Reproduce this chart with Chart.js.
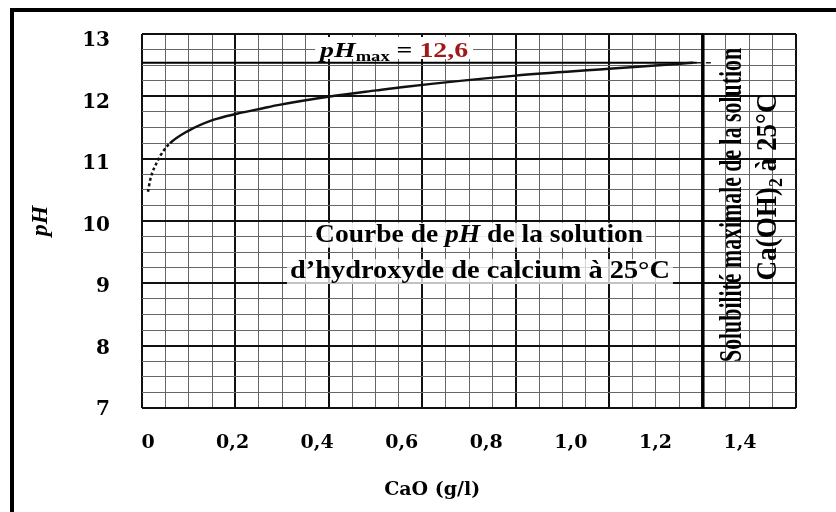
<!DOCTYPE html>
<html>
<head>
<meta charset="utf-8">
<script src="https://cdn.jsdelivr.net/npm/chart.js@4.4.0/dist/chart.umd.min.js"></script>
<style>
  html, body { margin: 0; padding: 0; background: #fff; overflow: hidden; }
  #wrap { position: relative; width: 836px; height: 512px; }
  #frame { position: absolute; left: 10px; top: 8px; width: 900px; height: 600px;
           border-left: 4px solid #000; border-top: 4px solid #000; pointer-events: none; }
  canvas { display: block; }
</style>
</head>
<body>
<div id="wrap">
  <canvas id="c" width="836" height="512"></canvas>
  <div id="frame"></div>
</div>
<script>
// ---------- data ----------
const xTickValues = [0, 0.2, 0.4, 0.6, 0.8, 1.0, 1.2, 1.4];
const xTickLabels = ['0', '0,2', '0,4', '0,6', '0,8', '1,0', '1,2', '1,4'];
const yTickValues = [7, 8, 9, 10, 11, 12, 13];
const yTickLabels = ['7', '8', '9', '10', '11', '12', '13'];
const xRange = [-0.0142, 1.5324];   // visible CaO range (g/l)
const yRange = [6.984, 13.067];     // visible pH range
const paperCellsX = 28;             // graph-paper background cells
const paperCellsY = 24;

// pH curve of the Ca(OH)2 solution
const caoConc  = [0.000, 0.005, 0.024, 0.035, 0.052, 0.092, 0.154, 0.210, 0.272, 0.307, 0.430, 0.540, 0.610, 0.870, 1.090, 1.258, 1.289];
const phValues = [10.50, 10.69, 11.02, 11.15, 11.29, 11.48, 11.67, 11.77, 11.86, 11.91, 12.05, 12.15, 12.21, 12.39, 12.50, 12.585, 12.60];
const dashedUpTo = 0.052;        // extrapolated (dashed) beginning of the curve
const phMax = 12.6;
const phMaxLineEnd = 1.298;
const phMaxDashEnd = 1.336;
const solubilityLimit = 1.312;   // g/l CaO

// ---------- helpers ----------
const SERIF = '"Liberation Serif", "Times New Roman", serif';
const TICKFONT = '"DejaVu Serif", serif';
function integers(n) { return Array.from({ length: n + 1 }, (_, i) => ({ value: i })); }
function labelFor(v, vals, labels) {
  const i = vals.findIndex(t => Math.abs(t - v) < 1e-6);
  return i >= 0 ? labels[i] : '';
}
function noOverflow(s) { s.paddingTop = 0; s.paddingBottom = 0; s.paddingLeft = 0; s.paddingRight = 0; }
const paperColor = c => (c.tick.value % 4 === 0 ? '#111' : '#666');
const paperWidth = c => (c.tick.value % 4 === 0 ? 2 : 1);

function drawPieces(ctx, pieces, x, y, o) {
  let natural = 0;
  for (const p of pieces) { ctx.font = p.font; natural += ctx.measureText(p.text).width; }
  const width = o.width || natural;
  const sx = width / natural;
  ctx.save();
  ctx.translate(x, y);
  if (o.rotate) ctx.rotate(o.rotate);
  const start = o.align === 'center' ? -width / 2 : 0;
  if (o.bg) {
    ctx.fillStyle = o.bg.color;
    ctx.fillRect(start - o.bg.pad, -o.bg.above, width + 2 * o.bg.pad, o.bg.above + o.bg.below);
  }
  ctx.scale(sx, 1);
  let cx = start / sx;
  ctx.textAlign = 'left';
  ctx.textBaseline = 'alphabetic';
  for (const p of pieces) {
    ctx.font = p.font;
    ctx.fillStyle = p.color || '#000';
    ctx.fillText(p.text, cx, p.dy || 0);
    cx += ctx.measureText(p.text).width;
  }
  ctx.restore();
}

const annotations = {
  id: 'annotations',
  beforeDatasetsDraw(chart) {
    const { ctx, scales: { x, y } } = chart;
    // pH max label
    drawPieces(ctx, [
      { text: 'pH', font: 'italic bold 21px ' + SERIF },
      { text: 'max', font: 'bold 14px ' + SERIF, dy: 4 },
      { text: ' = ', font: 'bold 21px ' + SERIF },
      { text: '12,6', font: 'bold 21px ' + SERIF, color: '#9e1a1a' }
    ], x.getPixelForValue(0.407), y.getPixelForValue(12.693),
      { width: 148, bg: { color: '#fff', pad: 5, above: 20, below: 2 } });

    // curve caption
    drawPieces(ctx, [
      { text: 'Courbe de ', font: 'bold 25px ' + SERIF },
      { text: 'pH', font: 'italic bold 25px ' + SERIF },
      { text: ' de la solution', font: 'bold 25px ' + SERIF }
    ], x.getPixelForValue(0.783), y.getPixelForValue(9.689),
      { align: 'center', width: 328, bg: { color: 'rgba(255,255,255,0.88)', pad: 3, above: 19, below: 6 } });
    drawPieces(ctx, [
      { text: 'd\u2019hydroxyde de calcium à 25°C', font: 'bold 25px ' + SERIF }
    ], x.getPixelForValue(0.785), y.getPixelForValue(9.098),
      { align: 'center', width: 380, bg: { color: 'rgba(255,255,255,0.75)', pad: 3, above: 19, below: 6 } });

    // vertical caption next to the solubility limit
    drawPieces(ctx, [
      { text: 'Solubilité maximale de la solution', font: 'bold 31px ' + SERIF }
    ], x.getPixelForValue(1.402), y.getPixelForValue(10.286),
      { align: 'center', width: 314, rotate: -Math.PI / 2 });
    drawPieces(ctx, [
      { text: 'Ca(OH)', font: 'bold 29px ' + SERIF },
      { text: '2', font: 'bold 19px ' + SERIF, dy: 6 },
      { text: ' à 25°C', font: 'bold 29px ' + SERIF }
    ], x.getPixelForValue(1.485), y.getPixelForValue(10.578),
      { align: 'center', width: 187, rotate: -Math.PI / 2 });
  },
  afterDraw(chart) {
    const { ctx, scales: { x }, chartArea } = chart;
    // x-axis title, placed under the 0,6 - 0,8 labels as in the original
    ctx.save();
    ctx.font = 'bold 19px ' + TICKFONT;
    ctx.fillStyle = '#000';
    ctx.textAlign = 'center';
    ctx.textBaseline = 'middle';
    ctx.fillText('CaO (g/l)', x.getPixelForValue(0.672), chartArea.bottom + 82);
    ctx.restore();
  }
};

// ---------- chart ----------
const curve = caoConc.map((c, i) => ({ x: c, y: phValues[i] }));

new Chart(document.getElementById('c'), {
  type: 'line',
  data: {
    datasets: [
      {
        data: curve, borderColor: '#111', borderWidth: 2.5, pointRadius: 0,
        cubicInterpolationMode: 'monotone',
        segment: { borderDash: c => (c.p1.parsed.x <= dashedUpTo ? [3, 2.5] : undefined) }
      },
      {
        data: [{ x: xRange[0], y: phMax }, { x: phMaxLineEnd, y: phMax }],
        borderColor: '#000', borderWidth: 2, pointRadius: 0
      },
      {
        data: [{ x: phMaxLineEnd, y: phMax }, { x: phMaxDashEnd, y: phMax }],
        borderColor: '#222', borderWidth: 1.5, borderDash: [5, 4], pointRadius: 0
      },
      {
        data: [{ x: solubilityLimit, y: yRange[0] }, { x: solubilityLimit, y: yRange[1] }],
        borderColor: '#000', borderWidth: 3.5, pointRadius: 0
      }
    ]
  },
  options: {
    responsive: false,
    animation: false,
    events: [],
    layout: { padding: { top: 34, right: 40, bottom: 0, left: 0 } },
    plugins: { legend: { display: false }, tooltip: { enabled: false } },
    scales: {
      x: {
        type: 'linear', min: xRange[0], max: xRange[1],
        afterBuildTicks: s => { s.ticks = xTickValues.map(v => ({ value: v })); },
        afterFit: s => { s.height = 104; noOverflow(s); },
        ticks: {
          autoSkip: false, maxRotation: 0, padding: 24, color: '#000',
          font: { family: TICKFONT, weight: 'bold', size: 19 },
          callback: v => labelFor(v, xTickValues, xTickLabels)
        },
        grid: { display: false, drawTicks: false },
        border: { display: false }
      },
      y: {
        type: 'linear', min: yRange[0], max: yRange[1],
        afterBuildTicks: s => { s.ticks = yTickValues.map(v => ({ value: v })); },
        afterFit: s => { s.width = 142; noOverflow(s); },
        ticks: {
          autoSkip: false, padding: 32, color: '#000', labelOffset: 3,
          font: { family: TICKFONT, weight: 'bold', size: 20 },
          callback: v => labelFor(v, yTickValues, yTickLabels)
        },
        grid: { display: false, drawTicks: false },
        border: { display: false },
        title: {
          display: true, text: 'pH', color: '#000',
          font: { family: SERIF, weight: 'bold', style: 'italic', size: 24 },
          padding: { top: 26, bottom: 0 }
        }
      },
      paperX: {
        type: 'linear', position: 'top', min: 0, max: paperCellsX,
        afterBuildTicks: s => { s.ticks = integers(paperCellsX); },
        afterFit: s => { s.height = 0; noOverflow(s); },
        ticks: { display: false },
        grid: { drawTicks: false, color: paperColor, lineWidth: paperWidth },
        border: { display: false }
      },
      paperY: {
        type: 'linear', position: 'right', min: 0, max: paperCellsY,
        afterBuildTicks: s => { s.ticks = integers(paperCellsY); },
        afterFit: s => { s.width = 0; noOverflow(s); },
        ticks: { display: false },
        grid: { drawTicks: false, color: paperColor, lineWidth: paperWidth },
        border: { display: false }
      }
    }
  },
  plugins: [annotations]
});
</script>
</body>
</html>
